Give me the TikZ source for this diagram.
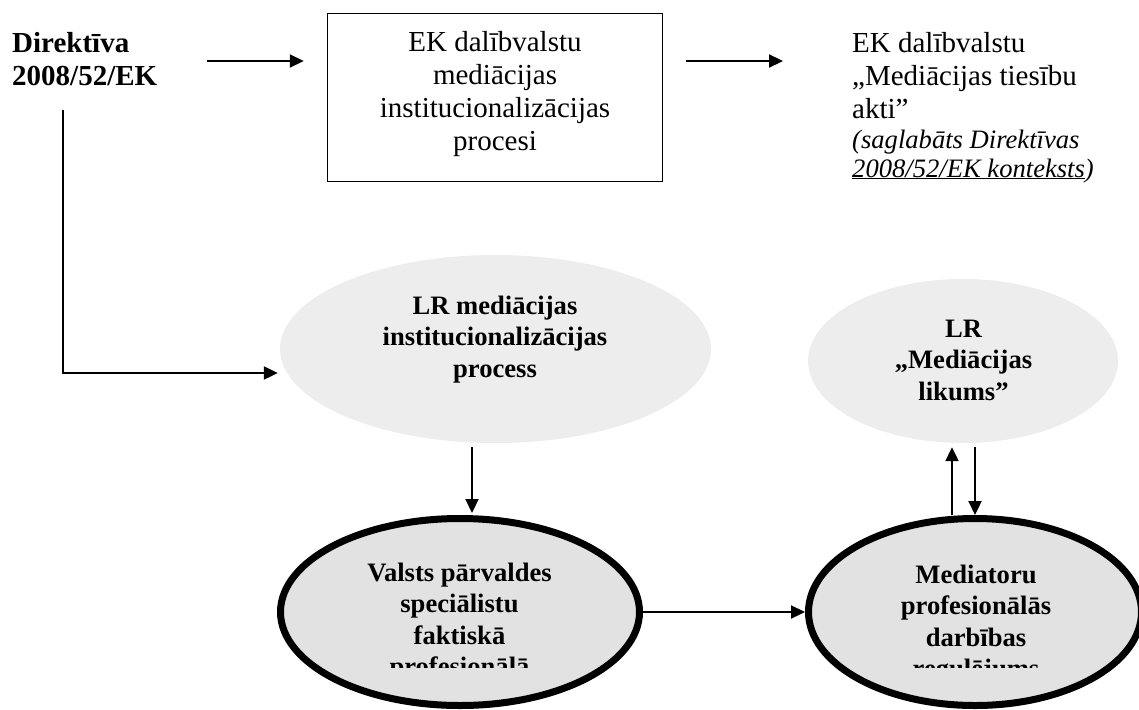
\documentclass[tikz,border=0pt]{standalone}
\usepackage{fontspec}
\setmainfont{Liberation Serif}
\usetikzlibrary{arrows.meta,shapes.geometric}
\definecolor{softfill}{HTML}{EDEDED}
\definecolor{ringfill}{HTML}{E2E2E2}
\begin{document}
\begin{tikzpicture}[x=1pt,y=-1pt,
  arr/.style={line width=2.2pt,-{Triangle[length=14pt,width=13pt]}},
  plain/.style={font=\fontsize{29}{33}\selectfont, inner sep=0pt, anchor=base},
  strong/.style={font=\fontsize{26.6}{31.5}\selectfont\bfseries, inner sep=0pt, anchor=base, align=center},
  soft/.style={ellipse, fill=softfill, inner sep=0pt},
  ring/.style={ellipse, fill=ringfill, draw, line width=7pt, inner sep=0pt},
]
\useasboundingbox (0,0) rectangle (1139,709);

% top row: directive, member-state processes, member-state acts
% (multi-line text nodes are placed by the baseline of their last line)
\node[anchor=base west, align=left, inner sep=0pt,
      font=\fontsize{29}{33}\selectfont\bfseries] (dir) at (12,85) {Direktīva\\2008/52/EK};
\node[draw, line width=1.5pt, minimum width=335pt, minimum height=168pt, inner sep=0pt] (box) at (495,97.5) {};
\node[plain, align=center] (boxtext) at (495,150) {EK dalībvalstu\\mediācijas\\institucionalizācijas\\procesi};
\node[plain, anchor=base west, align=left] (dest) at (852,118) {EK dalībvalstu\\„Mediācijas tiesību\\akti”};
\node[anchor=base west, align=left, inner sep=0pt,
      font=\fontsize{26.6}{29}\selectfont\itshape] (destnote) at (852,177) {(saglabāts Direktīvas\\\underline{2008/52/EK konteksts})};

% Latvian side
\node[soft, minimum width=431pt, minimum height=188pt] (e1) at (495.5,349) {};
\node[strong] (e1text) at (495,377) {LR mediācijas\\institucionalizācijas\\process};
\node[soft, minimum width=310pt, minimum height=164pt] (e2) at (963,361) {};
\node[strong] (e2text) at (963.5,400) {LR\\„Mediācijas\\likums”};
\node[ring, minimum width=359pt, minimum height=187pt] (e3) at (460,612) {};
\node[ring, minimum width=333pt, minimum height=187pt] (e4) at (975,612) {};
\begin{scope}
  \clip (0,515) rectangle (1139,667);
  \node[strong] (e3text) at (459.5,675.5) {Valsts pārvaldes\\speciālistu\\faktiskā\\profesionālā};
  \node[strong] (e4text) at (976,677.5) {Mediatoru\\profesionālās\\darbības\\regulējums};
\end{scope}

% connectors
\coordinate (d1) at (207,61);
\draw[arr, shorten >=23pt] (d1) -- (d1 -| box.west);
\draw[arr, shorten <=23pt, shorten >=69pt] (box.east |- d1) -- (dest.west |- d1);
\coordinate (d2) at (63,110);
\coordinate (d3) at (0,373);
\draw[arr, shorten >=2pt] (d2) |- (e1.west |- d3);
\coordinate (xa) at (472,0);
\draw[arr, shorten <=4pt, shorten >=2pt] (e1.south -| xa) -- (e3.north -| xa);
\draw[arr] (e3.east) -- (e4.west);
\coordinate (xup) at (952,0);
\coordinate (xdn) at (975,0);
\draw[arr, shorten >=4pt] (e4.north -| xup) -- (e2.south -| xup);
\draw[arr, shorten <=4pt] (e2.south -| xdn) -- (e4.north -| xdn);
\end{tikzpicture}
\end{document}
